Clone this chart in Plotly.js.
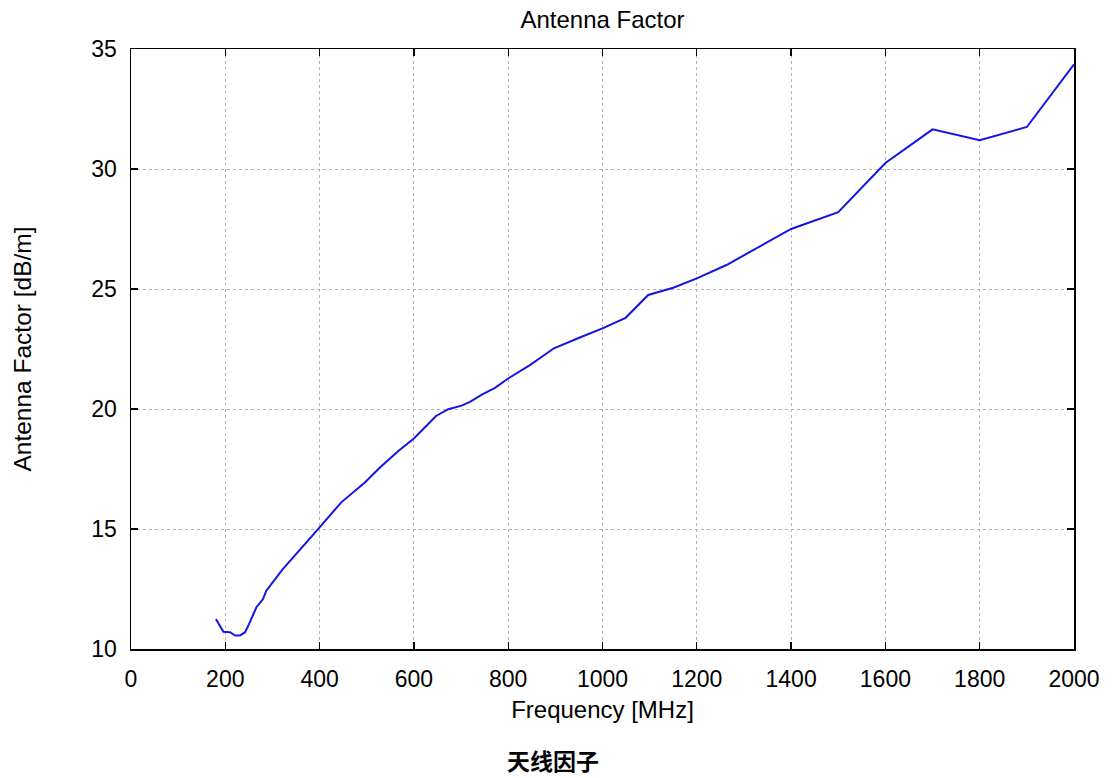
<!DOCTYPE html>
<html>
<head>
<meta charset="utf-8">
<script src="https://cdn.plot.ly/plotly-3.0.1.min.js"></script>
<style>
  html, body { margin: 0; padding: 0; background: #ffffff; }
  #chart { width: 1112px; height: 778px; }
</style>
</head>
<body>
<div id="chart"></div>
<script>
// Frequency in MHz
const frequency = [180, 196, 210, 221, 231, 242, 252, 266, 280, 287, 322, 357, 400, 446, 496, 528, 567, 600, 647, 673, 701, 719, 744, 772, 800, 846, 897, 952, 1000, 1049, 1097, 1150, 1200, 1263, 1400, 1500, 1600, 1700, 1800, 1900, 2000];
// Antenna factor in dB/m
const antennaFactor = [11.25, 10.72, 10.70, 10.56, 10.56, 10.70, 11.11, 11.74, 12.08, 12.43, 13.33, 14.10, 15.07, 16.11, 16.94, 17.56, 18.25, 18.77, 19.71, 19.99, 20.14, 20.30, 20.60, 20.88, 21.27, 21.83, 22.53, 22.98, 23.36, 23.80, 24.75, 25.05, 25.44, 26.00, 27.50, 28.20, 30.25, 31.65, 31.20, 31.75, 34.36];

const xTicks = [0, 200, 400, 600, 800, 1000, 1200, 1400, 1600, 1800, 2000];
const yTicks = [10, 15, 20, 25, 30, 35];

const chartTitle = 'Antenna Factor';
const xTitle = 'Frequency [MHz]';
const yTitle = 'Antenna Factor [dB/m]';
const caption = '天线因子';

const font = 'Liberation Sans, Arial, Helvetica, sans-serif';

const trace = {
  x: frequency,
  y: antennaFactor,
  type: 'scatter',
  mode: 'lines',
  line: { color: '#1414e6', width: 2 },
  hoverinfo: 'x+y'
};

const axisCommon = {
  showline: true,
  linecolor: '#000000',
  linewidth: 1.5,
  mirror: 'ticks',
  ticks: 'inside',
  ticklen: 7,
  tickwidth: 1.2,
  tickcolor: '#000000',
  showgrid: true,
  gridcolor: '#b4b4b4',
  gridwidth: 1,
  griddash: 'dot',
  zeroline: false,
  tickfont: { family: font, size: 23, color: '#000000' }
};

const layout = {
  width: 1112,
  height: 778,
  margin: { l: 131, r: 38, t: 49, b: 129 },
  paper_bgcolor: '#ffffff',
  plot_bgcolor: '#ffffff',
  showlegend: false,
  title: {
    text: chartTitle,
    font: { family: font, size: 24, color: '#000000' },
    x: 0.5,
    xref: 'paper',
    y: 1 - 20 / 778,
    yref: 'container',
    yanchor: 'middle'
  },
  xaxis: Object.assign({}, axisCommon, {
    range: [0, 2000],
    tickvals: xTicks,
    ticktext: xTicks.map(String),
    ticklabelstandoff: 9,
    title: { text: xTitle, font: { family: font, size: 24, color: '#000000' }, standoff: 10 }
  }),
  yaxis: Object.assign({}, axisCommon, {
    range: [10, 35],
    tickvals: yTicks,
    ticktext: yTicks.map(String),
    ticklabelstandoff: 8,
    title: { text: yTitle, font: { family: font, size: 24.5, color: '#000000' }, standoff: 52 }
  }),
  annotations: [{
    text: '<b>' + caption + '</b>',
    xref: 'paper', yref: 'paper',
    x: (553 - 131) / 943, y: (648.7 - 760) / 600,
    xanchor: 'center', yanchor: 'middle',
    showarrow: false,
    font: { family: 'Noto Sans CJK SC, sans-serif', size: 23, color: '#000000' }
  }]
};

Plotly.newPlot('chart', [trace], layout, { displayModeBar: false, staticPlot: true });
</script>
</body>
</html>
